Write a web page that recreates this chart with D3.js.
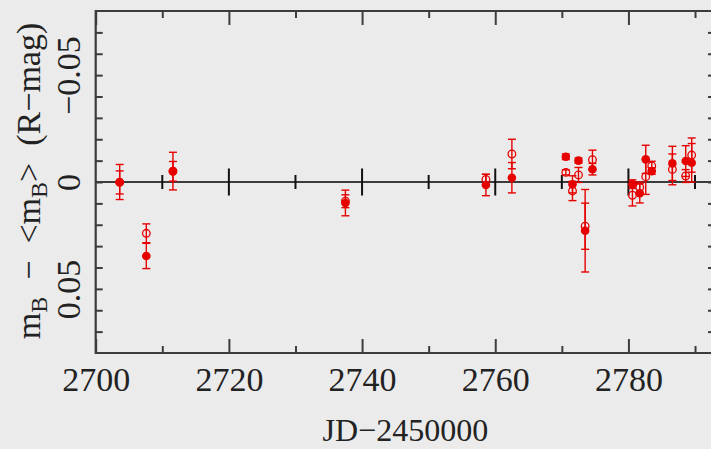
<!DOCTYPE html>
<html>
<head>
<meta charset="utf-8">
<script src="https://cdn.jsdelivr.net/npm/d3@7"></script>
<style>
  html, body { margin: 0; padding: 0; background: #ebebeb; }
  svg { display: block; }
  text { font-family: "Liberation Serif", "DejaVu Serif", serif; fill: #222; }
</style>
</head>
<body>
<script>
// Observation epochs (JD - 2450000)
const jd = [2703.6, 2707.6, 2711.6, 2737.5, 2758.6, 2762.5, 2770.6, 2771.6, 2772.5,
            2773.5, 2774.6, 2780.6, 2781.7, 2782.6, 2783.5, 2786.6, 2788.6, 2789.5];

// B-band residuals (filled symbols) and their errors
const magB = [0.0000, 0.0346, -0.0051, 0.0098, 0.0014, -0.0020, -0.0118, 0.0011, -0.0100,
              0.0228, -0.0060, 0.0010, 0.0053, -0.0106, -0.0051, -0.0087, -0.0098, -0.0090];
const errB = [0.0082, 0.0059, 0.0088, 0.0060, 0.0050, 0.0071, 0.0013, 0.0040, 0.0012,
              0.0193, 0.0027, 0.0020, 0.0045, 0.0066, 0.0015, 0.0080, 0.0072, 0.0090];

// Residuals in R-mag units (open symbols) and their errors
const magR = [0.0002, 0.0240, -0.0050, 0.0090, -0.0012, -0.0131, -0.0045, 0.0042, -0.0033,
              0.0207, -0.0104, 0.0062, 0.0025, -0.0025, -0.0075, -0.0059, -0.0028, -0.0126];
const errR = [0.0054, 0.0044, 0.0046, 0.0030, 0.0024, 0.0069, 0.0012, 0.0045, 0.0035,
              0.0108, 0.0045, 0.0050, 0.0025, 0.0083, 0.0022, 0.0072, 0.0030, 0.0080];

// Axis ticks and labels
const xMajorTicks = [2700, 2720, 2740, 2760, 2780];
const xMinorTicks = [2710, 2730, 2750, 2770, 2790];
const yTicks = [-0.07, -0.06, -0.05, -0.04, -0.03, -0.02, -0.01, 0, 0.01, 0.02, 0.03, 0.04, 0.05, 0.06, 0.07];
const yLabelValues = [-0.05, 0, 0.05];
const yLabelText = ["\u22120.05", "0", "0.05"];

const W = 711, H = 449;
const frameL = 95.7, frameR = 715, frameT = 11, frameB = 353;
const axisColor = "#3c3c3c";
const red = "#e60000";

const svg = d3.select("body").append("svg").attr("width", W).attr("height", H);
svg.append("rect").attr("width", W).attr("height", H).attr("fill", "#ebebeb");

const x = d3.scaleLinear().domain([2700, 2793]).range([frameL, frameR]);
const y = d3.scaleLinear().domain([-0.08, 0.08]).range([frameT, frameB]);

function styleAxis(g) {
  g.select(".domain").remove();
  g.selectAll(".tick line").attr("stroke", axisColor).attr("stroke-width", 2);
}

// bottom axis: major ticks with labels
svg.append("g").attr("transform", `translate(0,${frameB})`)
  .call(d3.axisBottom(x).tickValues(xMajorTicks).tickSize(-14).tickPadding(38).tickFormat(d3.format("d")))
  .call(styleAxis)
  .call(g => g.selectAll("text").attr("font-size", 34).attr("fill", "#222").attr("dy", 0));
svg.append("g").attr("transform", `translate(0,${frameB})`)
  .call(d3.axisBottom(x).tickValues(xMinorTicks).tickSize(-7).tickFormat(""))
  .call(styleAxis);
// top axis
svg.append("g").attr("transform", `translate(0,${frameT})`)
  .call(d3.axisTop(x).tickValues(xMajorTicks).tickSize(-14).tickFormat(""))
  .call(styleAxis);
svg.append("g").attr("transform", `translate(0,${frameT})`)
  .call(d3.axisTop(x).tickValues(xMinorTicks).tickSize(-7).tickFormat(""))
  .call(styleAxis);

// left axis
svg.append("g").attr("transform", `translate(${frameL},0)`)
  .call(d3.axisLeft(y).tickValues(yTicks).tickSize(-7).tickFormat(""))
  .call(styleAxis);
svg.append("g").attr("transform", `translate(${frameL},0)`)
  .call(d3.axisLeft(y).tickValues(yLabelValues).tickSize(0).tickFormat((d, i) => yLabelText[i]))
  .call(styleAxis)
  .call(g => g.selectAll("text")
    .attr("font-size", 34).attr("fill", "#222")
    .attr("text-anchor", "middle")
    .attr("x", 0).attr("dy", 0).attr("y", -16)
    .attr("transform", "rotate(-90)"));
// right axis
svg.append("g").attr("transform", `translate(${frameR},0)`)
  .call(d3.axisRight(y).tickValues(yTicks).tickSize(-7).tickFormat(""))
  .call(styleAxis);

// zero line with crossing ticks
const zero = svg.append("g").attr("transform", `translate(0,${y(0)})`);
zero.append("line").attr("x1", frameL).attr("x2", frameR)
  .attr("stroke", axisColor).attr("stroke-width", 2);
zero.selectAll("line.maj").data(xMajorTicks.filter(d => d > 2700)).join("line")
  .attr("class", "maj")
  .attr("x1", d => x(d)).attr("x2", d => x(d)).attr("y1", -13.5).attr("y2", 13.5)
  .attr("stroke", "#111").attr("stroke-width", 2);
zero.selectAll("line.min").data(xMinorTicks).join("line")
  .attr("class", "min")
  .attr("x1", d => x(d)).attr("x2", d => x(d)).attr("y1", -7).attr("y2", 7)
  .attr("stroke", "#111").attr("stroke-width", 2);

// frame
svg.append("path")
  .attr("d", `M${frameR},${frameT}H${frameL}V${frameB}H${frameR}V${frameT}`)
  .attr("fill", "none").attr("stroke", axisColor).attr("stroke-width", 2.2);

// data: error bars then symbols
const cap = 4;
function errorBars(vals, errs) {
  const g = svg.append("g").attr("stroke", red).attr("stroke-width", 1.4).attr("fill", "none");
  jd.forEach((d, i) => {
    const cx = x(d), y1 = y(vals[i] - errs[i]), y2 = y(vals[i] + errs[i]);
    g.append("line").attr("x1", cx).attr("x2", cx).attr("y1", y1).attr("y2", y2);
    g.append("line").attr("x1", cx - cap).attr("x2", cx + cap).attr("y1", y1).attr("y2", y1);
    g.append("line").attr("x1", cx - cap).attr("x2", cx + cap).attr("y1", y2).attr("y2", y2);
  });
}
errorBars(magR, errR);
errorBars(magB, errB);

svg.append("g").selectAll("circle").data(jd).join("circle")
  .attr("cx", d => x(d)).attr("cy", (d, i) => y(magR[i])).attr("r", 3.8)
  .attr("fill", "none").attr("stroke", red).attr("stroke-width", 1.3);
svg.append("g").selectAll("circle").data(jd).join("circle")
  .attr("cx", d => x(d)).attr("cy", (d, i) => y(magB[i])).attr("r", 4.3)
  .attr("fill", red);

// axis titles
svg.append("text")
  .attr("x", (frameL + frameR) / 2).attr("y", 441)
  .attr("text-anchor", "middle").attr("font-size", 32)
  .text("JD\u22122450000");

const yt = svg.append("text")
  .attr("transform", "translate(40,181) rotate(-90)")
  .attr("text-anchor", "middle").attr("font-size", 34);
yt.append("tspan").text("m");
yt.append("tspan").attr("dy", 7).attr("font-size", 24).text("B");
yt.append("tspan").attr("dy", -7).text("\u2002\u2212\u2002<m");
yt.append("tspan").attr("dy", 7).attr("font-size", 24).text("B");
yt.append("tspan").attr("dy", -7).text(">\u2002(R\u2212mag)");
</script>
</body>
</html>
